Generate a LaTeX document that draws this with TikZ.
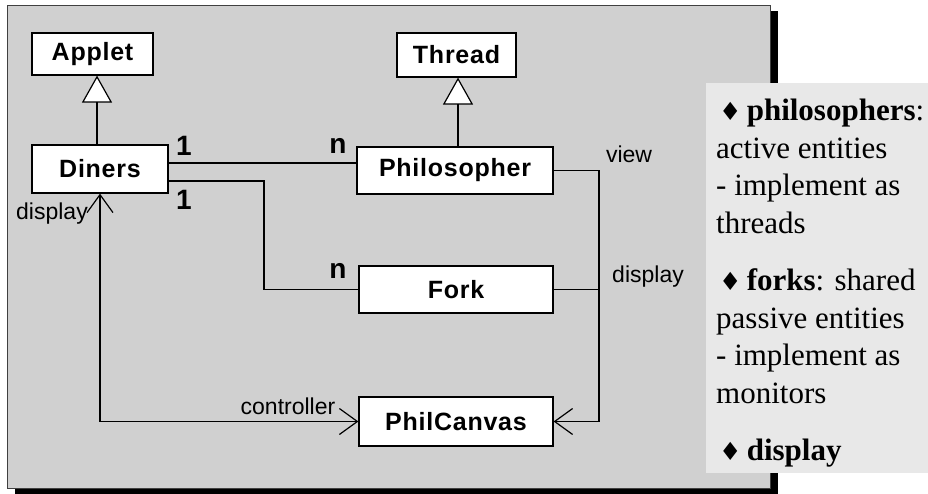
\documentclass[tikz,border=0pt]{standalone}
\usepackage{fontspec}
\setmainfont{Liberation Serif}
\setsansfont{Liberation Sans}
\newfontfamily\boxfont[LetterSpace=3]{Liberation Sans}
\newfontfamily\symfont{DejaVu Sans}
\usetikzlibrary{arrows.meta}
\definecolor{panelgray}{HTML}{D0D0D0}
\definecolor{notegray}{HTML}{E8E8E8}
\newcommand{\bul}{\hspace*{3pt}{\symfont\fontsize{25}{25}\selectfont ♦}\,}
\tikzset{
  classbox/.style={draw, line width=1.2pt, fill=white, inner sep=0pt,
    font=\boxfont\bfseries\fontsize{25}{25}\selectfont},
  mult/.style={inner sep=0pt, font=\sffamily\bfseries\fontsize{28}{28}\selectfont},
  role/.style={inner sep=0pt, font=\sffamily\fontsize{23}{23}\selectfont},
  assoc/.style={line width=1.2pt},
  gen/.style={line width=1.2pt, -{Triangle[open,length=27pt,width=30pt,fill=white]}},
  nav/.style={line width=1.2pt, -{Straight Barb[length=18pt,width=26pt]}},
}
\begin{document}
\begin{tikzpicture}[x=1pt,y=-1pt]
\useasboundingbox (0,0) rectangle (928,494);
% panel and its shadow
\fill (15,11) rectangle (778,494);
\filldraw[fill=panelgray, draw=black!75, line width=0.8pt] (7,5) rectangle (770,488);
\fill[notegray] (706,83) rectangle (928,473);

% classes
\node[classbox, minimum width=121pt, minimum height=42pt] (applet) at (92.5,54) {Applet};
\node[classbox, minimum width=119pt, minimum height=44pt] (thread) at (456.5,55) {Thread};
\node[classbox, minimum width=136pt, minimum height=48pt] (diners) at (100,169) {Diners};
\node[classbox, minimum width=196pt, minimum height=47pt] (phil) at (455,170.5) {Philosopher};
\node[classbox, minimum width=194pt, minimum height=47pt] (fork) at (456,289.5) {Fork};
\node[classbox, minimum width=194pt, minimum height=49pt] (canvas) at (456,421.5) {PhilCanvas};

\coordinate (gapplet) at (97,0);
\coordinate (gthread) at (458,0);
\coordinate (bend1) at (264,181);
\coordinate (bend2) at (599,0);

% inheritance
\draw[gen] (diners.north -| gapplet) -- (applet.south -| gapplet);
\draw[gen] (phil.north -| gthread) -- (thread.south -| gthread);

% associations
\draw[assoc] (diners.east |- 0,163) -- (phil.west |- 0,163);
\draw[assoc] (diners.east |- bend1) -- (bend1) |- (fork.west);
\draw[nav] (phil.east) -| (phil.east -| bend2) |- (canvas.east);
\draw[assoc] (fork.east) -- (fork.east -| bend2);
\draw[nav] (diners.south |- canvas.west) -- (canvas.west);
\draw[nav] (diners.south |- canvas.west) -- (diners.south);

% multiplicities and roles
\node[mult] (m1) at (184,146) {1};
\node[mult] (m2) at (184,200) {1};
\node[mult] (n1) at (338,146) {n};
\node[mult] (n2) at (338,271) {n};
\node[role] (rview) at (629,154) {view};
\node[role] (rdisp) at (648,277) {display};
\node[role] (ldisp) at (52,214) {display};
\node[role] (rctrl) at (288,406) {controller};

% notes
\node[anchor=north west, inner sep=0pt, align=left,
  font=\fontsize{31}{37.5}\selectfont] (notes) at (716,99)
  {\bul\textbf{philosophers}:\\ active entities\\ - implement as\\ threads\\[20pt]
   \bul\textbf{forks}: shared\\ passive entities\\ - implement as\\ monitors\\[20pt]
   \bul\textbf{display}};
\end{tikzpicture}
\end{document}
